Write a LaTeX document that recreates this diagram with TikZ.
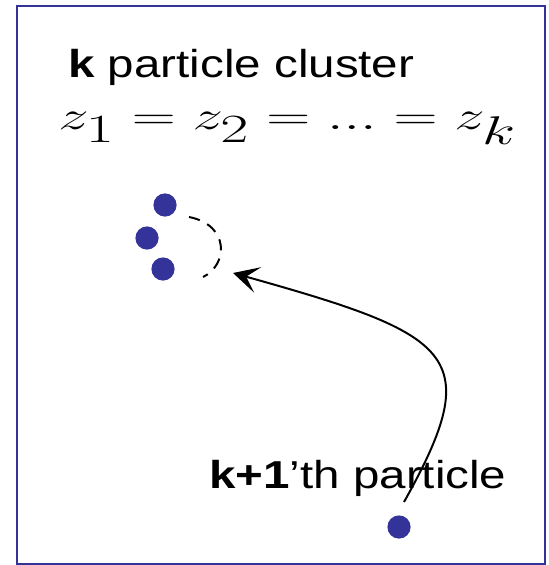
\RequirePackage{fix-cm}
\documentclass[tikz,border=0pt]{standalone}
\usepackage{amsmath}
\usepackage{graphicx}
\usepackage{fontspec}
\setsansfont{Liberation Sans}
\usepackage{xcolor}
\usepackage{tikz}
\usetikzlibrary{arrows.meta,positioning,calc}

\definecolor{frameblue}{HTML}{333399}

\begin{document}
\begin{tikzpicture}[
    x=0.025cm, y=-0.025cm,
    particle/.style={circle, fill=frameblue, inner sep=0pt, minimum size=0.58cm},
    label/.style={font=\sffamily\fontsize{27.7}{32}\selectfont, inner sep=0pt, anchor=base west},
    eqn/.style={font=\fontsize{28.5}{32}\selectfont, inner sep=0pt, anchor=base west},
    arrow/.style={-{Stealth[length=0.64cm, width=0.66cm, inset=0.3cm]}, line width=1.4pt},
    bond/.style={dashed, dash pattern=on 8pt off 6pt, line width=1.4pt}
]
\useasboundingbox (0,0) rectangle (548,565);

% Frame
\draw[frameblue, line width=2pt] (17,6) rectangle (545,564);

% Cluster labels
\node[label] (title) at (68,78) {\scalebox{1.22}[1]{\textbf{k} particle cluster}};
\node[eqn] (eq) at (58,130) {\scalebox{1.52}[1]{$z_{\textstyle 1} = z_{\textstyle 2} = ... = z_{\textstyle k}$}};

% Cluster of k particles
\node[particle] (p1) at (165,205) {};
\node[particle] (p2) at (147,238) {};
\node[particle] (p3) at (163,269) {};

% Open side of the cluster
\coordinate (bondA) at (189,217);
\coordinate (bondB) at (203,277);
\draw[bond] (bondA) .. controls (230,225) and (228,265) .. (bondB);

% Incoming particle
\node[particle] (pnew) at (399,527) {};
\node[label] (newlabel) at (209,488) {\scalebox{1.22}[1]{\textbf{k+1}'th particle}};
\coordinate (start) at (404,502);
\coordinate (target) at (233,273);
\draw[arrow] (start) .. controls (487,354) and (454,335) .. (target);

\end{tikzpicture}
\end{document}
